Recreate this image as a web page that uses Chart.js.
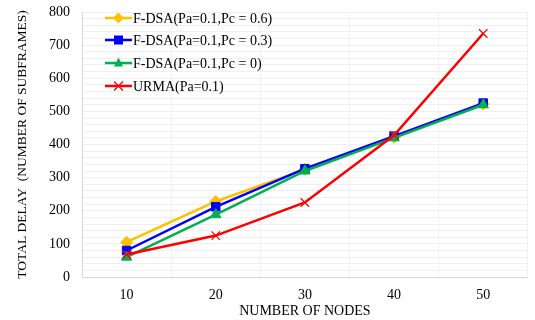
<!DOCTYPE html>
<html>
<head>
<meta charset="utf-8">
<script src="https://cdn.jsdelivr.net/npm/chart.js@4/dist/chart.umd.min.js"></script>
<style>
  html, body { margin: 0; padding: 0; background: #fff; }
  #wrap { width: 535px; height: 320px; }
</style>
</head>
<body>
<div id="wrap"><canvas id="myChart" width="535" height="320"></canvas></div>
<script>
// chart values
const nodes = ["10", "20", "30", "40", "50"];
const pc06 = [105, 228, 325, 422, 522];
const pc03 = [80, 212, 327, 425, 525];
const pc0 = [60, 188, 320, 420, 520];
const urma = [68, 125, 225, 428, 735];
const seriesNames = [
  "F-DSA(Pa=0.1,Pc = 0.6)",
  "F-DSA(Pa=0.1,Pc = 0.3)",
  "F-DSA(Pa=0.1,Pc = 0)",
  "URMA(Pa=0.1)",
];

const serif = "'Liberation Serif', 'Times New Roman', serif";
const colors = ["#FFC000", "#0000FF", "#00B050", "#FF0000"];
const styles = ["rectRot", "rect", "triangle", "crossRot"];

const makeSet = (i, data) => ({
  label: seriesNames[i],
  data: data,
  borderColor: colors[i],
  backgroundColor: colors[i],
  pointBackgroundColor: colors[i],
  pointBorderColor: colors[i],
  borderWidth: 2.5,
  pointStyle: styles[i],
  pointRadius: 6,
  pointBorderWidth: i === 3 ? 1.2 : 1,
  order: 3 - i,
  tension: 0,
});

// draw the legend inside the plot, line + marker like the original
const insideLegend = {
  id: "insideLegend",
  afterDraw(chart) {
    const c = chart.ctx;
    const rows = [18, 40, 63, 86];
    const mx = 118.5;
    c.save();
    chart.data.datasets.forEach((ds, i) => {
      const y = rows[i];
      c.strokeStyle = colors[i];
      c.lineWidth = 2.5;
      c.beginPath();
      c.moveTo(105, y);
      c.lineTo(132, y);
      c.stroke();
      c.fillStyle = colors[i];
      c.lineWidth = 1.2;
      c.beginPath();
      const r = 4.5;
      if (i === 0) {
        c.moveTo(mx, y - r * 1.2); c.lineTo(mx + r * 1.2, y);
        c.lineTo(mx, y + r * 1.2); c.lineTo(mx - r * 1.2, y);
        c.closePath(); c.fill();
      } else if (i === 1) {
        c.rect(mx - r, y - r, r * 2, r * 2); c.fill();
      } else if (i === 2) {
        c.moveTo(mx, y - r * 1.2); c.lineTo(mx + r, y + r * 0.8);
        c.lineTo(mx - r, y + r * 0.8); c.closePath(); c.fill();
      } else {
        c.moveTo(mx - r, y - r); c.lineTo(mx + r, y + r);
        c.moveTo(mx + r, y - r); c.lineTo(mx - r, y + r);
        c.stroke();
      }
      c.fillStyle = "#000";
      c.font = "14px " + serif;
      c.textBaseline = "middle";
      c.textAlign = "left";
      c.fillText(ds.label, 133, y + 1);
    });
    c.restore();
  },
};

const ctx = document.querySelector("#myChart").getContext("2d");

const lineChart = {
  type: "line",
  data: {
    labels: nodes,
    datasets: [makeSet(0, pc06), makeSet(1, pc03), makeSet(2, pc0), makeSet(3, urma)],
  },
  options: {
    responsive: false,
    animation: false,
    layout: { padding: { top: 0, right: 3, left: 0, bottom: 0 } },
    plugins: {
      legend: { display: false },
      tooltip: { enabled: false },
    },
    scales: {
      x: {
        offset: true,
        grid: { color: "#f0f0f0", offset: true, drawTicks: false },
        border: { color: "#d9d9d9" },
        ticks: { color: "#000", font: { family: serif, size: 14 }, padding: 10 },
        title: {
          display: true,
          text: "NUMBER OF NODES",
          color: "#000",
          font: { family: serif, size: 14 },
          padding: { top: 6, bottom: 0 },
        },
        afterFit: (scale) => { scale.height = 43; },
      },
      y: {
        min: 0,
        max: 800,
        grid: { color: "#f0f0f0", drawTicks: false },
        border: { color: "#d9d9d9" },
        ticks: {
          stepSize: 20,
          autoSkip: false,
          maxTicksLimit: 100,
          color: "#000",
          padding: 12,
          font: { family: serif, size: 14 },
          callback: (v) => (v % 100 === 0 ? v : ""),
        },
        title: {
          display: true,
          text: "TOTAL DELAY  (NUMBER OF SUBFRAMES)",
          color: "#000",
          font: { family: serif, size: 13.5 },
          padding: { top: 14, bottom: 4 },
        },
        afterFit: (scale) => {
          scale.width = 82;
          scale.paddingTop = 12;
        },
      },
    },
  },
  plugins: [insideLegend],
};

const resultsChart = new Chart(ctx, lineChart);
</script>
</body>
</html>
